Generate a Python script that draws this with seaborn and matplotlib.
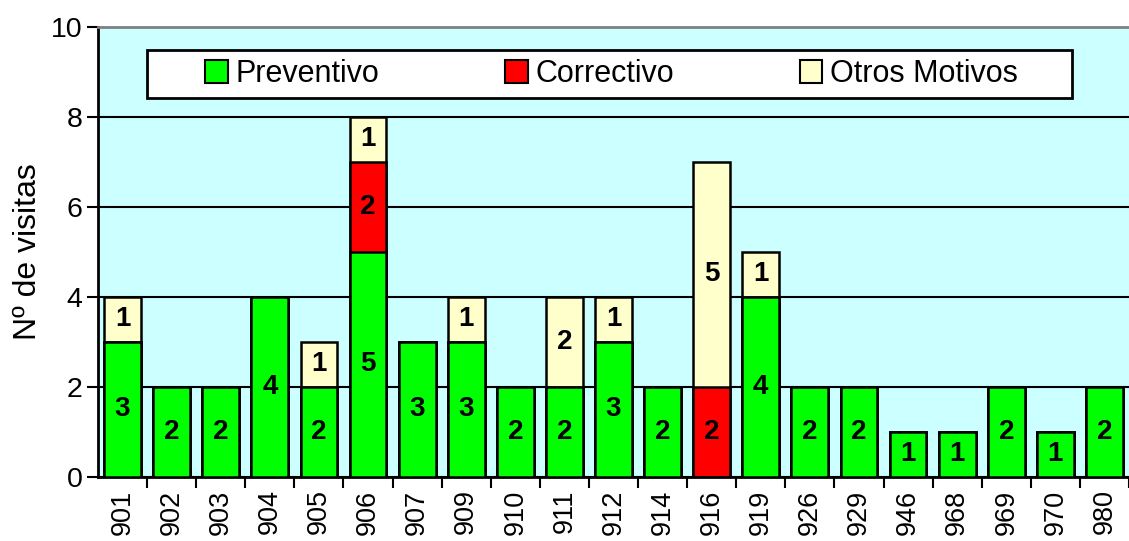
import numpy as np
import matplotlib
matplotlib.use("Agg")
import matplotlib.pyplot as plt
import seaborn as sns
from matplotlib.patches import Patch, Rectangle

# Datos
codigos = ['901', '902', '903', '904', '905', '906', '907', '909', '910', '911', '912',
           '914', '916', '919', '926', '929', '946', '968', '969', '970', '980']
preventivo = [3, 2, 2, 4, 2, 5, 3, 3, 2, 2, 3, 2, 0, 4, 2, 2, 1, 1, 2, 1, 2]
correctivo = [0, 0, 0, 0, 0, 2, 0, 0, 0, 0, 0, 0, 2, 0, 0, 0, 0, 0, 0, 0, 0]
otros = [1, 0, 0, 0, 1, 1, 0, 1, 0, 2, 1, 0, 5, 1, 0, 0, 0, 0, 0, 0, 0]

sns.set_style("white")
plt.rcParams['font.family'] = ['Liberation Sans', 'DejaVu Sans']
plt.rcParams['text.color'] = 'black'
plt.rcParams['axes.labelcolor'] = 'black'
plt.rcParams['xtick.color'] = 'black'
plt.rcParams['ytick.color'] = 'black'

col_prev, col_corr, col_otros = '#00FF00', '#FF0000', '#FFFFCC'

fig = plt.figure(figsize=(11.29, 5.41), dpi=100)
ax = fig.add_axes([0.0868, 0.1183, 0.9132, 0.8318])
ax.set_facecolor('#CCFFFF')

prev = np.array(preventivo)
corr = np.array(correctivo)
otr = np.array(otros)

# barras apiladas (acumuladas, de arriba hacia abajo)
for vals, col in [(prev + corr + otr, col_otros), (prev + corr, col_corr), (prev, col_prev)]:
    sns.barplot(x=codigos, y=vals, color=col, edgecolor='black', linewidth=1.8,
                width=0.75, saturation=1, ax=ax, zorder=3)

# etiquetas
for i in range(len(codigos)):
    base = 0
    for v in (prev[i], corr[i], otr[i]):
        if v > 0:
            ax.text(i, base + v / 2, str(v), ha='center', va='center',
                    fontsize=20, fontweight='bold', color='black', zorder=5)
        base += v

ax.set_xlim(-0.5, 20.32)
ax.set_ylim(0, 10)
ax.set_yticks([0, 2, 4, 6, 8, 10])
ax.yaxis.grid(True, color='black', linewidth=1.5, zorder=0)
ax.set_axisbelow(True)
ax.tick_params(axis='y', direction='out', length=8, width=1.5, labelsize=20.5, left=True, pad=3)

ax.set_xticks(range(len(codigos)))
ax.set_xticklabels(codigos, rotation=90, fontsize=19.5)
ax.set_xticks(np.arange(len(codigos)) + 0.5, minor=True)
ax.tick_params(axis='x', which='major', length=0, pad=9)
ax.tick_params(axis='x', which='minor', direction='out', length=8, width=1.5, bottom=True)

ax.set_ylabel('Nº de visitas', fontsize=23, labelpad=6)
ax.set_xlabel('')

for s in ['left', 'bottom']:
    ax.spines[s].set_color('black')
    ax.spines[s].set_linewidth(2)
ax.spines['top'].set_color('#808080')
ax.spines['top'].set_linewidth(2)
ax.spines['right'].set_visible(False)

# caja de la leyenda
ax.add_patch(Rectangle((0.0475, 0.842), 0.897, 0.1067, transform=ax.transAxes,
                       facecolor='white', edgecolor='black', linewidth=2, zorder=9))

handles = [Patch(facecolor=col_prev, edgecolor='black', linewidth=1.5, label='Preventivo'),
           Patch(facecolor=col_corr, edgecolor='black', linewidth=1.5, label='Correctivo'),
           Patch(facecolor=col_otros, edgecolor='black', linewidth=1.5, label='Otros Motivos')]
leg = ax.legend(handles=handles, ncol=3, loc='center', mode='expand',
                bbox_to_anchor=(0.1038, 0.8456, 0.7885, 0.1), fontsize=22,
                frameon=False, handlelength=0.75, handleheight=0.75,
                handletextpad=0.25, borderpad=0, borderaxespad=0)
leg.set_zorder(10)

plt.savefig('out.png', dpi=100)
plt.close()
